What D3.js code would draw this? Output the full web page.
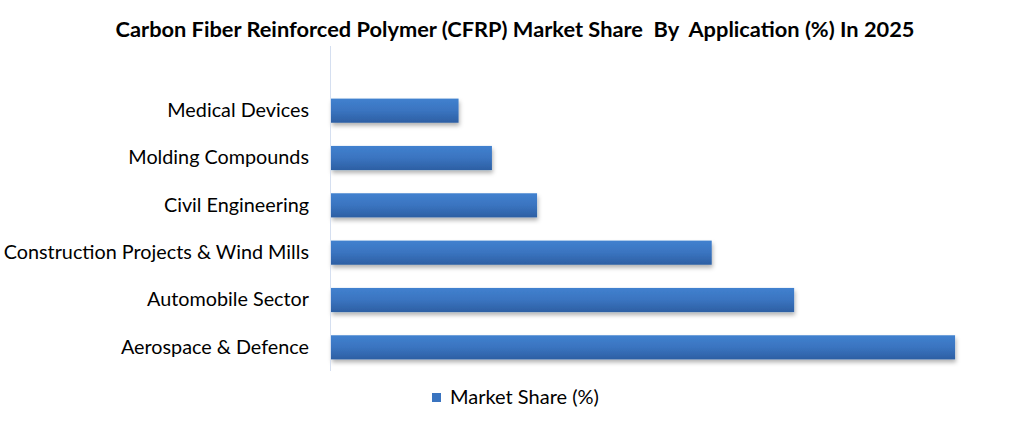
<!DOCTYPE html>
<html><head><meta charset="utf-8">
<script src="https://cdn.jsdelivr.net/npm/d3@7"></script>
<style>body{margin:0;background:#fff}svg{display:block}</style>
</head><body>
<svg id="chart" width="1024" height="425"></svg>
<script>
const categories = ["Medical Devices","Molding Compounds","Civil Engineering","Construction Projects & Wind Mills","Automobile Sector","Aerospace & Defence"];
const values = [6.5, 8.2, 10.5, 19.4, 23.6, 31.8];
const seriesName = "Market Share (%)";
const title = "Carbon Fiber Reinforced Polymer (CFRP) Market Share  By  Application (%) In 2025";

const svg = d3.select("#chart");
const font = "Lato, 'Open Sans', sans-serif";
const defs = svg.append("defs");
const g1 = defs.append("linearGradient").attr("id","barGrad").attr("x1",0).attr("y1",0).attr("x2",0).attr("y2",1);
g1.append("stop").attr("offset","0%").attr("stop-color","#4181cf");
g1.append("stop").attr("offset","50%").attr("stop-color","#3a74c0");
g1.append("stop").attr("offset","100%").attr("stop-color","#2d5fa3");
const f = defs.append("filter").attr("id","shadow").attr("x","-5%").attr("y","-30%").attr("width","110%").attr("height","180%");
f.append("feDropShadow").attr("dx",1).attr("dy",3).attr("stdDeviation",2).attr("flood-color","#000").attr("flood-opacity",0.3);

const x = d3.scaleLinear().domain([0, 32]).range([331, 959]);
const y = d3.scaleBand().domain(categories).range([87, 371]).paddingInner(0.49).paddingOuter(0.245);

svg.append("text").attr("x",515).attr("y",37).attr("text-anchor","middle")
  .style("white-space","pre")
  .attr("font-family",font).attr("font-weight","bold").attr("font-size",21.8)
  .attr("fill","#000").text(title);

svg.append("g").selectAll("rect").data(categories).join("rect")
  .attr("x", x(0)).attr("y", d => y(d)).attr("width", (d,i) => x(values[i]) - x(0))
  .attr("height", y.bandwidth()).attr("fill","url(#barGrad)").attr("filter","url(#shadow)");

svg.append("line").attr("x1",330.5).attr("x2",330.5).attr("y1",46).attr("y2",371)
  .attr("stroke","#d5dff0").attr("stroke-width",1);

const yAxis = d3.axisLeft(y).tickSize(0).tickPadding(21);
const ya = svg.append("g").attr("transform","translate(330,0)").call(yAxis);
ya.select(".domain").remove();
ya.selectAll("text").attr("font-family",font).attr("font-size",19.8).attr("fill","#000");

const leg = svg.append("g");
leg.append("rect").attr("x",432).attr("y",393).attr("width",9).attr("height",9).attr("fill","#3a74c0");
leg.append("text").attr("x",450).attr("y",404).attr("font-family",font).attr("font-size",20).attr("fill","#000").text(seriesName);
</script>
</body></html>
